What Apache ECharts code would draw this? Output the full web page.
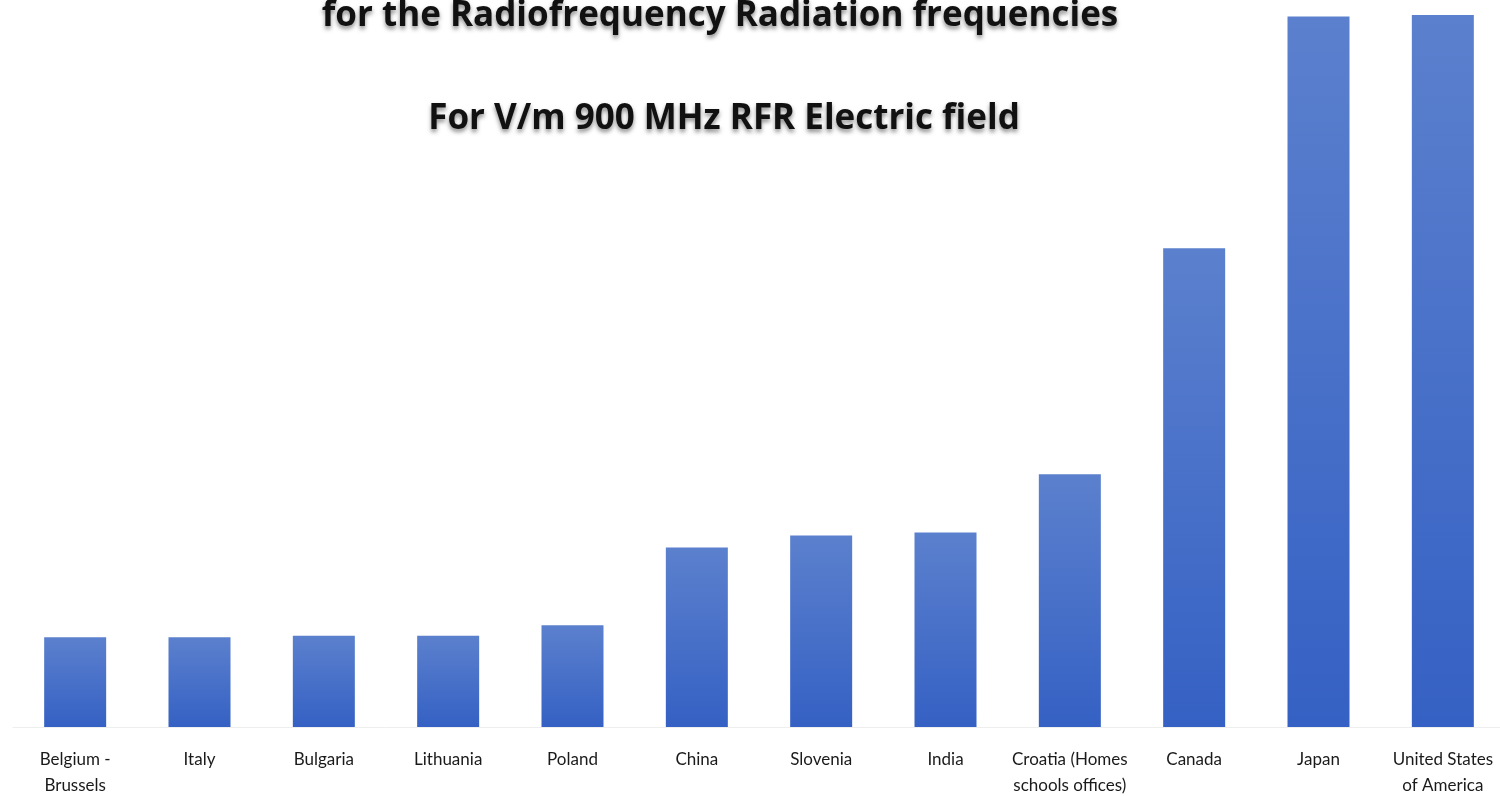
<!DOCTYPE html>
<html>
<head>
<meta charset="utf-8">
<script src="https://cdn.jsdelivr.net/npm/echarts@6/dist/echarts.min.js"></script>
<style>
html,body{margin:0;padding:0;background:#fff;}
#chart{width:1500px;height:796px;}
</style>
</head>
<body>
<div id="chart"></div>
<script>
var titleLine1 = 'for the Radiofrequency Radiation frequencies';
var titleLine2 = 'For V/m 900 MHz RFR Electric field';
var categories = ['Belgium -\nBrussels', 'Italy', 'Bulgaria', 'Lithuania', 'Poland', 'China', 'Slovenia', 'India', 'Croatia (Homes\nschools offices)', 'Canada', 'Japan', 'United States\nof America'];
var values = [6, 6, 6.1, 6.1, 6.8, 12, 12.8, 13, 16.9, 32, 47.5, 47.6];

var chart = echarts.init(document.getElementById('chart'));
var titleStyle = {
  fontFamily: 'Open Sans',
  fontWeight: 'bold',
  fontSize: 35,
  color: '#111',
  textShadowColor: 'rgba(0,0,0,0.45)',
  textShadowBlur: 4,
  textShadowOffsetY: 3
};
chart.setOption({
  animation: false,
  backgroundColor: '#ffffff',
  title: [
    { text: titleLine1, left: 715, top: -6, textAlign: 'center', textStyle: titleStyle },
    { text: titleLine2, left: 719, top: 97, textAlign: 'center', textStyle: titleStyle }
  ],
  grid: { left: 13, width: 1492, top: 9, height: 718, outerBoundsMode: 'none', containLabel: false },
  xAxis: {
    type: 'category',
    data: categories,
    axisLine: { show: true, lineStyle: { color: '#eeeeee', width: 1 } },
    axisTick: { show: false },
    axisLabel: {
      interval: 0,
      margin: 20,
      fontFamily: 'Lato',
      fontSize: 17,
      lineHeight: 26,
      color: '#1a1a1a'
    }
  },
  yAxis: {
    type: 'value',
    min: 0,
    max: 48,
    show: false,
    splitLine: { show: false }
  },
  series: [{
    type: 'bar',
    data: values,
    barWidth: 62,
    itemStyle: {
      color: new echarts.graphic.LinearGradient(0, 0, 0, 1, [
        { offset: 0, color: '#5b80cd' },
        { offset: 1, color: '#3561c4' }
      ])
    }
  }]
});
</script>
</body>
</html>
